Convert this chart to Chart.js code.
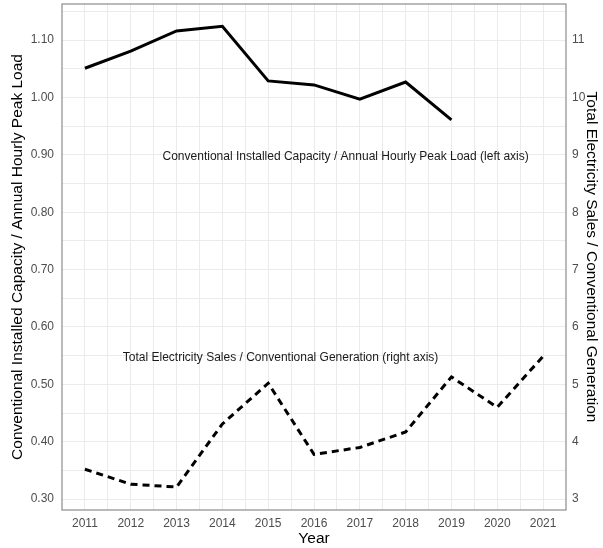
<!DOCTYPE html>
<html>
<head>
<meta charset="utf-8">
<script src="https://cdn.jsdelivr.net/npm/chart.js@4/dist/chart.umd.min.js"></script>
<style>
  body { margin: 0; background: #fff; }
</style>
</head>
<body>
<canvas id="chart" width="603" height="548"></canvas>
<script>
// data
var years = [2011, 2012, 2013, 2014, 2015, 2016, 2017, 2018, 2019, 2020, 2021];
var capacityRatio = [1.051, 1.081, 1.116, 1.124, 1.029, 1.022, 0.997, 1.027, 0.961, null, null];
var salesRatio = [3.52, 3.26, 3.21, 4.31, 5.02, 3.78, 3.90, 4.17, 5.13, 4.60, 5.49];

var leftTicks = [0.30, 0.40, 0.50, 0.60, 0.70, 0.80, 0.90, 1.00, 1.10];
var rightTicks = [3, 4, 5, 6, 7, 8, 9, 10, 11];

var capacityLabel = 'Conventional Installed Capacity / Annual Hourly Peak Load (left axis)';
var salesLabel = 'Total Electricity Sales / Conventional Generation (right axis)';

function points(ys) {
    return years.map(function (y, i) { return { x: y, y: ys[i] }; }).filter(function (p) { return p.y !== null; });
}

// major ticks plus half-step minor grid lines
function withMinor(list, step) {
    var out = [];
    list.forEach(function (v, i) {
        out.push({ value: v, major: true });
        if (i < list.length - 1) out.push({ value: v + step / 2, major: false });
    });
    return out;
}

function noPad(s) {
    s.paddingTop = 0; s.paddingBottom = 0;
    s.paddingLeft = 0; s.paddingRight = 0;
}

var fontFamily = '"Liberation Sans", Arial, sans-serif';
var gridColor = '#ebebeb';

var panelPlugin = {
    id: 'panel',
    afterDatasetsDraw: function (chart) {
        var c = chart.ctx, x = chart.scales.x, yl = chart.scales.y, yr = chart.scales.y2;
        c.save();
        c.fillStyle = '#1a1a1a';
        c.font = '12px ' + fontFamily;
        c.textAlign = 'center';
        c.textBaseline = 'middle';
        c.fillText(capacityLabel, x.getPixelForValue(2016.69), yl.getPixelForValue(0.896));
        c.fillText(salesLabel, x.getPixelForValue(2015.27), yr.getPixelForValue(5.47));
        c.restore();
    },
    afterDraw: function (chart) {
        var a = chart.chartArea, c = chart.ctx;
        c.save();
        c.strokeStyle = '#8c8c8c';
        c.lineWidth = 1.2;
        c.strokeRect(a.left, a.top, a.right - a.left, a.bottom - a.top);
        c.restore();
    }
};

var ctx = document.getElementById('chart').getContext('2d');
var chart = new Chart(ctx, {
    type: 'line',
    data: {
        datasets: [{
            label: 'Capacity',
            data: points(capacityRatio),
            yAxisID: 'y',
            borderColor: '#000',
            borderWidth: 3,
            pointRadius: 0,
            tension: 0
        }, {
            label: 'Sales',
            data: points(salesRatio),
            yAxisID: 'y2',
            borderColor: '#000',
            borderWidth: 3,
            borderDash: [7, 5],
            pointRadius: 0,
            tension: 0
        }]
    },
    options: {
        responsive: false,
        animation: false,
        devicePixelRatio: 1,
        layout: { padding: { top: 4, left: 0, right: 0, bottom: 0 } },
        plugins: { legend: { display: false }, tooltip: { enabled: false } },
        scales: {
            x: {
                type: 'linear',
                min: 2010.5,
                max: 2021.5,
                afterBuildTicks: function (s) { s.ticks = withMinor(years, 1); },
                afterFit: function (s) { s.height = 38; noPad(s); },
                grid: { color: gridColor, lineWidth: 1, drawTicks: false },
                border: { display: false },
                ticks: {
                    autoSkip: false,
                    maxRotation: 0,
                    padding: 6,
                    color: '#4d4d4d',
                    font: { family: fontFamily, size: 12 },
                    callback: function (v) { return Number.isInteger(v) ? String(v) : ''; }
                },
                title: {
                    display: true,
                    text: 'Year',
                    color: '#000',
                    padding: { top: 0, bottom: 0 },
                    font: { family: fontFamily, size: 15.5 }
                }
            },
            y: {
                position: 'left',
                min: 0.281,
                max: 1.163,
                afterBuildTicks: function (s) {
                    var t = withMinor(leftTicks, 0.1);
                    t.push({ value: 1.15, major: false });
                    s.ticks = t;
                },
                afterFit: function (s) { s.width = 62; noPad(s); },
                grid: { color: gridColor, lineWidth: 1, drawTicks: false },
                border: { display: false },
                ticks: {
                    autoSkip: false,
                    padding: 8,
                    color: '#4d4d4d',
                    font: { family: fontFamily, size: 12 },
                    callback: function (v) {
                        var major = leftTicks.some(function (t) { return Math.abs(t - v) < 1e-6; });
                        return major ? v.toFixed(2) : '';
                    }
                },
                title: {
                    display: true,
                    text: 'Conventional Installed Capacity / Annual Hourly Peak Load',
                    color: '#000',
                    padding: { top: 8, bottom: 0 },
                    font: { family: fontFamily, size: 15.5 }
                }
            },
            y2: {
                position: 'right',
                min: 2.81,
                max: 11.63,
                afterBuildTicks: function (s) { s.ticks = rightTicks.map(function (v) { return { value: v }; }); },
                afterFit: function (s) { s.width = 37; noPad(s); },
                grid: { display: false, drawTicks: false },
                border: { display: false },
                ticks: {
                    autoSkip: false,
                    padding: 6,
                    color: '#4d4d4d',
                    font: { family: fontFamily, size: 12 }
                },
                title: {
                    display: true,
                    text: 'Total Electricity Sales / Conventional Generation',
                    color: '#000',
                    padding: { top: 2, bottom: 0 },
                    font: { family: fontFamily, size: 15.5 }
                }
            }
        }
    },
    plugins: [panelPlugin]
});
</script>
</body>
</html>
